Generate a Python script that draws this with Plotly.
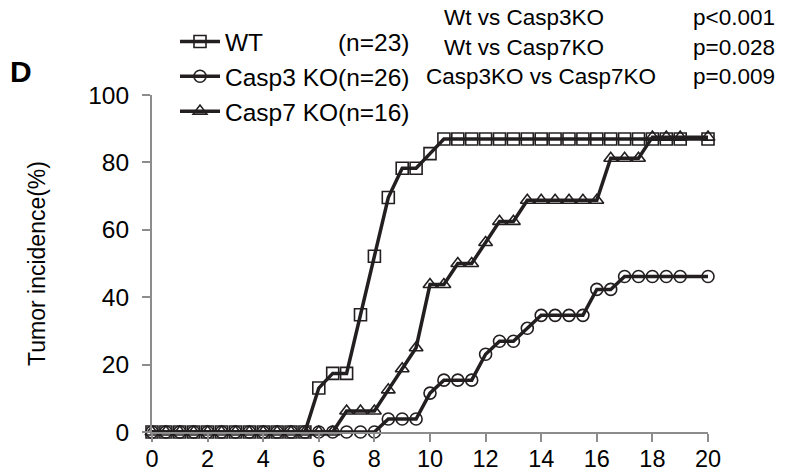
import plotly.graph_objects as go

# ---- data ----
weeks = [0, 0.5, 1, 1.5, 2, 2.5, 3, 3.5, 4, 4.5, 5, 5.5, 6, 6.5, 7, 7.5, 8, 8.5, 9, 9.5,
         10, 10.5, 11, 11.5, 12, 12.5, 13, 13.5, 14, 14.5, 15, 15.5, 16, 16.5, 17, 17.5,
         18, 18.5, 19, 20]

wt = [0, 0, 0, 0, 0, 0, 0, 0, 0, 0, 0, 0,
      13.04, 17.39, 17.39, 34.78, 52.17, 69.57, 78.26, 78.26, 82.61,
      86.96, 86.96, 86.96, 86.96, 86.96, 86.96, 86.96, 86.96, 86.96, 86.96,
      86.96, 86.96, 86.96, 86.96, 86.96, 86.96, 86.96, 86.96, 86.96]

casp3 = [0, 0, 0, 0, 0, 0, 0, 0, 0, 0, 0, 0, 0, 0, 0, 0, 0,
         3.85, 3.85, 3.85,
         11.54, 15.38, 15.38, 15.38, 23.08, 26.92, 26.92, 30.77, 34.62, 34.62,
         34.62, 34.62, 42.31, 42.31,
         46.15, 46.15, 46.15, 46.15, 46.15, 46.15]

casp7 = [0, 0, 0, 0, 0, 0, 0, 0, 0, 0, 0, 0, 0, 0,
         6.25, 6.25, 6.25,
         12.5, 18.75, 25, 43.75, 43.75, 50, 50, 56.25, 62.5, 62.5,
         68.75, 68.75, 68.75, 68.75, 68.75, 68.75,
         81.25, 81.25, 81.25,
         87.5, 87.5, 87.5, 87.5]

series_names = ["WT" + "\u00a0" * 11 + "(n=23)", "Casp3 KO(n=26)", "Casp7 KO(n=16)"]
series_symbols = ["square-open", "circle-open", "triangle-up-open"]

x_ticks = [0, 2, 4, 6, 8, 10, 12, 14, 16, 18, 20]
y_ticks = [0, 20, 40, 60, 80, 100]

stats_left = ["Wt vs Casp3KO", "Wt vs Casp7KO", "Casp3KO vs Casp7KO"]
stats_right = ["p<0.001", "p=0.028", "p=0.009"]

# ---- style ----
FONT = "Liberation Sans, Arial, sans-serif"
INK = "#231f20"
AXIS = "#8c8c8c"
L, R, T, B = 152, 78, 95, 42
PW, PH = 786 - L - R, 474 - T - B


def px_x(px):
    return (px - L) / PW


def px_y(py):
    return 1 - (py - T) / PH


fig = go.Figure()
for name, ys, sym in zip(series_names, [wt, casp3, casp7], series_symbols):
    fig.add_trace(go.Scatter(
        x=weeks, y=ys, name=name, mode="lines+markers",
        line=dict(color=INK, width=3.5),
        marker=dict(symbol=sym, size=12, color=INK, line=dict(width=1.6, color=INK)),
        cliponaxis=False,
    ))

fig.update_layout(
    width=786, height=474,
    margin=dict(l=L, r=R, t=T, b=B, autoexpand=False),
    paper_bgcolor="white", plot_bgcolor="white",
    font=dict(family=FONT, color="black", size=24),
    showlegend=True,
    legend=dict(
        x=px_x(175), y=px_y(19), xanchor="left", yanchor="top",
        bgcolor="rgba(0,0,0,0)", font=dict(size=24.5, family=FONT, color="black"),
        tracegroupgap=0, itemwidth=40,
    ),
    xaxis=dict(
        range=[0, 20], tickvals=x_ticks, ticktext=[str(v) for v in x_ticks],
        showgrid=False, zeroline=False, showline=True, linecolor=AXIS, linewidth=2,
        ticks="outside", ticklen=8, tickwidth=2, tickcolor=AXIS, tickangle=0,
        ticklabelstandoff=-3,
        tickfont=dict(size=23.5, family=FONT, color="black"),
    ),
    yaxis=dict(
        range=[0, 100], tickvals=y_ticks, ticktext=[str(v) for v in y_ticks],
        showgrid=False, zeroline=False, showline=True, linecolor=AXIS, linewidth=2,
        ticks="outside", ticklen=8, tickwidth=2, tickcolor=AXIS,
        ticklabelstandoff=8,
        tickfont=dict(size=24.5, family=FONT, color="black"),
        title=dict(text="Tumor incidence(%)", font=dict(size=23, family=FONT, color="black"), standoff=36),
    ),
)

ys_text = [17, 48, 77]
xs_left = [441.7, 441.7, 424]
for lt, rt, yy, xl in zip(stats_left, stats_right, ys_text, xs_left):
    fig.add_annotation(xref="paper", yref="paper", x=px_x(xl), y=px_y(yy),
                       xanchor="left", yanchor="middle",
                       text=lt, showarrow=False, font=dict(size=22.5, family=FONT, color="black"))
    fig.add_annotation(xref="paper", yref="paper", x=px_x(777), y=px_y(yy),
                       xanchor="right", yanchor="middle",
                       text=rt, showarrow=False, font=dict(size=22.5, family=FONT, color="black"))

fig.add_annotation(xref="paper", yref="paper", x=px_x(8), y=px_y(71),
                   xanchor="left", yanchor="middle", text="<b>D</b>", showarrow=False,
                   font=dict(size=30, family=FONT, color="black"))

fig.write_html("out.html")
